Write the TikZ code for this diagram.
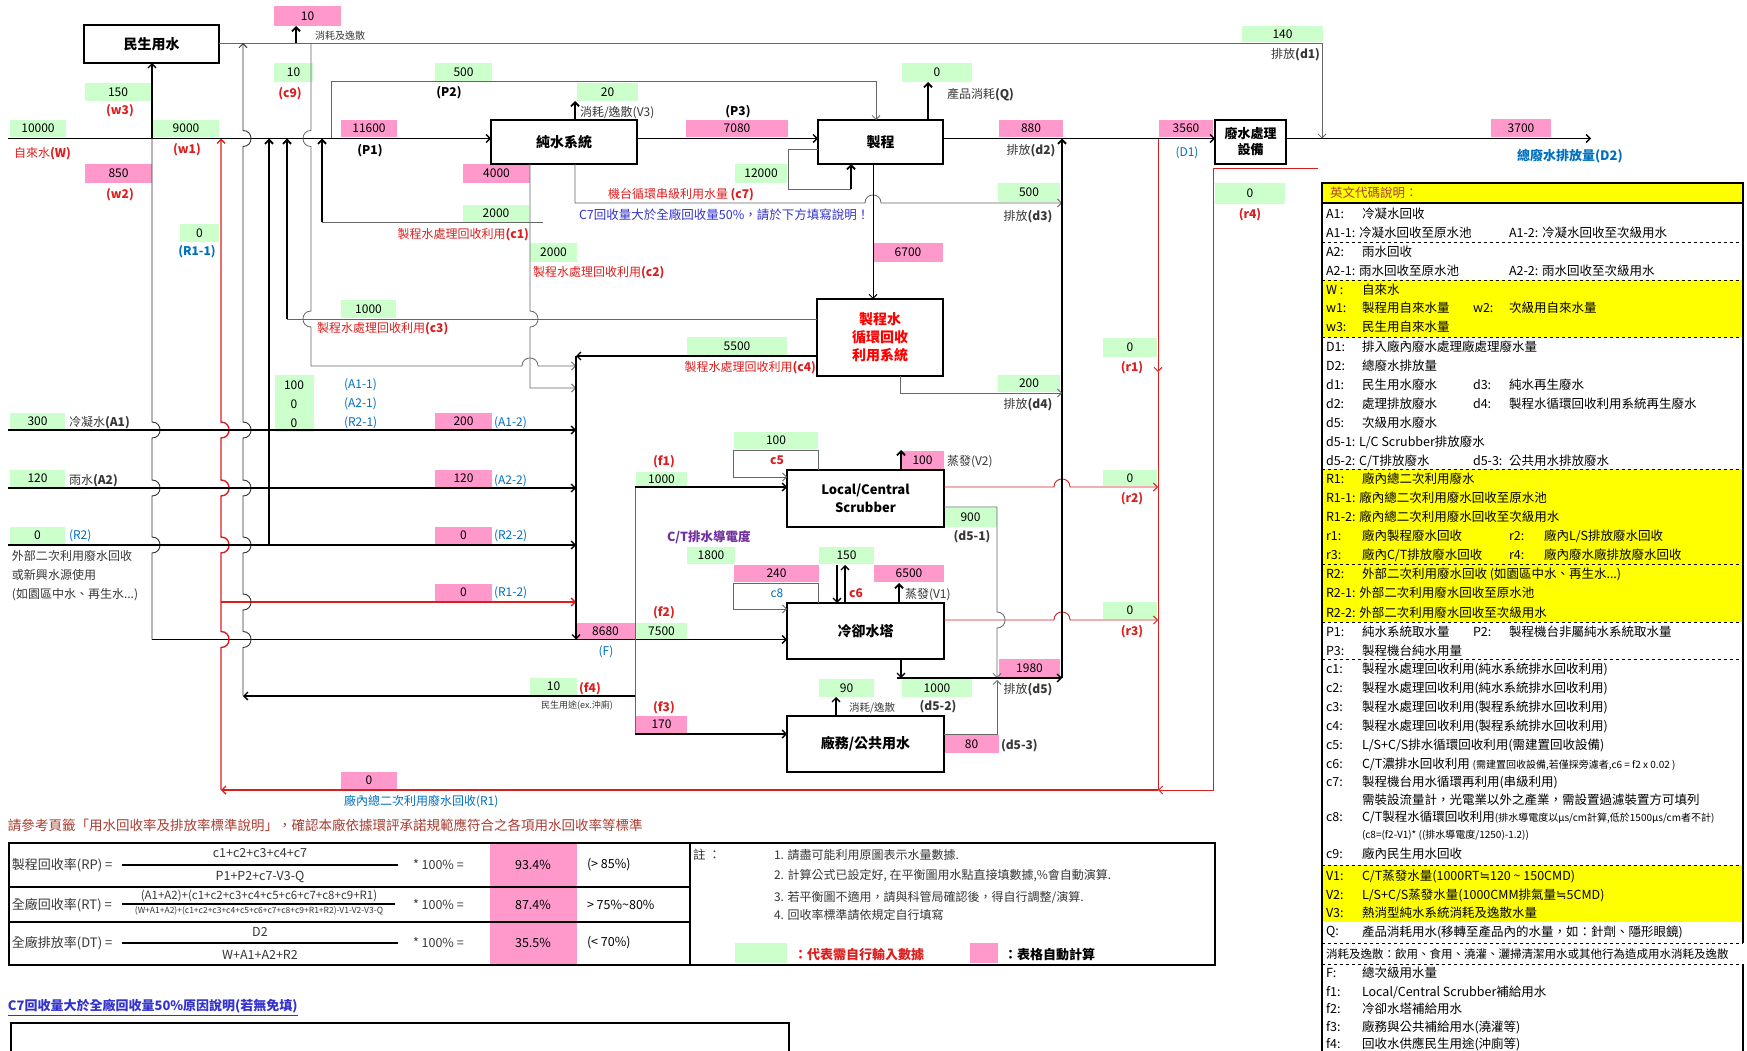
\documentclass[tikz,border=0pt]{standalone}
\usepackage{fontspec}
\setmainfont{Noto Sans CJK TC}
\newfontfamily\djv{DejaVu Sans}
\usetikzlibrary{arrows.meta}
\definecolor{gbx}{RGB}{204,255,204}
\definecolor{pbx}{RGB}{255,153,204}
\definecolor{ylw}{RGB}{255,255,0}
\definecolor{rd}{RGB}{220,30,30}
\definecolor{bl}{RGB}{0,112,192}
\definecolor{pu}{RGB}{112,48,160}
\definecolor{bb}{RGB}{51,51,204}
\definecolor{br}{RGB}{170,60,50}
\definecolor{tx}{RGB}{55,55,55}
\newcommand\fsz[2]{\fontsize{#1}{#2}\selectfont}
\newcommand\apx{{\djv ≒}}
\newcommand\vbx[7]{\fill[#1] (#3,#4) rectangle (#5,#6); \node[val] (#2) at ({(#3+#5)/2},{(#4+#6)/2}) {#7};}
\newcommand\lgA[3]{\node[lgt,anchor=west] (la#1) at (1326,#1) {#2}; \node[lgt,anchor=west] (lb#1) at (1362,#1) {#3};}
\newcommand\lgB[3]{\node[lgt,anchor=west] (lc#1) at (1473,#1) {#2}; \node[lgt,anchor=west] (ld#1) at (1509,#1) {#3};}
\begin{document}
\begin{tikzpicture}[x=1pt,y=-1pt,
  every node/.style={inner sep=0pt,outer sep=0pt},
  val/.style={font=\fsz{12}{14},text=black},
  lab/.style={font=\fsz{12}{14},text=tx},
  rlab/.style={font=\bfseries\fsz{12}{14},text=rd},
  blab/.style={font=\fsz{12}{14},text=bl},
  lgt/.style={font=\fsz{12.5}{15},text=black},
  boxn/.style={draw=black,line width=2.2pt,fill=white,font=\bfseries\fsz{14}{17},align=center},
  fl/.style={draw=black,line width=1.3pt},
  gl/.style={draw=black!60,line width=0.8pt},
  tk/.style={draw=black,line width=1.9pt},
  rl/.style={draw=rd,line width=0.9pt},
  rt/.style={draw=rd,line width=1.4pt},
  ar/.style={-{Straight Barb[length=4pt,width=8pt]}},
  ra/.style={{Straight Barb[length=4pt,width=8pt]}-},
]
\useasboundingbox (0,0) rectangle (1747,1051);
\fill[white] (0,0) rectangle (1747,1051);

% ---------- value boxes ----------
\vbx{gbx}{v10000}{10}{120}{66}{137}{10000}
\vbx{gbx}{v150}{85}{83}{151}{101}{150}
\vbx{pbx}{v850}{85}{164}{152}{183}{850}
\vbx{gbx}{v9000}{153}{120}{219}{137}{9000}
\vbx{gbx}{vR11}{180}{224}{219}{242}{0}
\vbx{pbx}{v10a}{274}{6}{341}{26}{10}
\vbx{gbx}{vc9}{274}{63}{313}{82}{10}
\vbx{gbx}{vP2}{435}{63}{492}{82}{500}
\vbx{pbx}{vP1}{341}{120}{397}{137}{11600}
\vbx{gbx}{vV3}{577}{83}{638}{101}{20}
\vbx{pbx}{vP3}{686}{120}{788}{137}{7080}
\vbx{pbx}{v4000}{463}{164}{530}{183}{4000}
\vbx{gbx}{vc7}{735}{164}{787}{183}{12000}
\vbx{gbx}{vc1}{463}{205}{529}{222}{2000}
\vbx{gbx}{vc2}{530}{243}{577}{262}{2000}
\vbx{gbx}{vc3}{341}{300}{396}{318}{1000}
\vbx{gbx}{vc4}{687}{337}{787}{356}{5500}
\vbx{pbx}{v6700}{873}{243}{943}{262}{6700}
\vbx{pbx}{vd2}{999}{120}{1063}{137}{880}
\vbx{gbx}{vQ}{902}{63}{972}{82}{0}
\vbx{gbx}{vd3}{998}{183}{1060}{202}{500}
\vbx{gbx}{vd4}{998}{375}{1060}{392}{200}
\vbx{gbx}{vd1}{1242}{26}{1323}{42}{140}
\vbx{pbx}{vD1}{1159}{120}{1213}{137}{3560}
\vbx{pbx}{vD2}{1491}{119}{1551}{137}{3700}
\vbx{gbx}{vr4}{1215}{183}{1285}{204}{0}
\vbx{gbx}{vr1}{1103}{338}{1157}{357}{0}
\vbx{gbx}{vr2}{1103}{470}{1157}{486}{0}
\vbx{gbx}{vr3}{1103}{602}{1157}{619}{0}
\vbx{gbx}{vA1}{10}{413}{65}{430}{300}
\vbx{gbx}{vA2}{10}{470}{65}{487}{120}
\vbx{gbx}{vR2}{10}{527}{65}{544}{0}
\fill[gbx] (275,375) rectangle (314,432);
\node[val] (vA11) at (294,385) {100};
\node[val] (vA21) at (294,404) {0};
\node[val] (vR21) at (294,423) {0};
\vbx{pbx}{vA12}{435}{413}{492}{430}{200}
\vbx{pbx}{vA22}{435}{470}{492}{487}{120}
\vbx{pbx}{vR22}{435}{527}{492}{544}{0}
\vbx{pbx}{vR12}{435}{584}{492}{601}{0}
\vbx{gbx}{vf1}{636}{472}{687}{486}{1000}
\vbx{gbx}{vc5}{734}{432}{818}{449}{100}
\vbx{pbx}{vV2}{901}{451}{944}{469}{100}
\vbx{gbx}{vd51}{944}{508}{997}{527}{900}
\vbx{gbx}{vcond}{687}{547}{735}{564}{1800}
\vbx{pbx}{vc8}{734}{565}{819}{582}{240}
\vbx{gbx}{vc6}{819}{547}{874}{564}{150}
\vbx{pbx}{vV1}{874}{565}{944}{582}{6500}
\vbx{pbx}{vF}{576}{623}{635}{639}{8680}
\vbx{gbx}{vf2}{636}{623}{687}{639}{7500}
\vbx{pbx}{vd5}{999}{659}{1060}{677}{1980}
\vbx{gbx}{vd52}{902}{679}{972}{697}{1000}
\vbx{gbx}{vcons}{819}{679}{874}{697}{90}
\vbx{pbx}{vf3}{636}{716}{687}{733}{170}
\vbx{pbx}{vd53}{944}{735}{999}{753}{80}
\vbx{gbx}{vf4}{530}{678}{577}{695}{10}
\vbx{pbx}{vR1}{341}{772}{397}{789}{0}

% ---------- labels ----------
\node[lab,text=rd,anchor=west] (lW) at (14,154) {自來水\textbf{(W)}};
\node[rlab] (lw3) at (120,111) {(w3)};
\node[rlab] (lw2) at (120,195) {(w2)};
\node[rlab] (lw1) at (187,150) {(w1)};
\node[blab,font=\bfseries\fsz{12}{14}] (lR11) at (197,252) {(R1-1)};
\node[lab,anchor=west,font=\fsz{10}{12}] (lcons) at (315,36) {消耗及逸散};
\node[rlab] (lc9) at (290,94) {(c9)};
\node[lab,font=\bfseries\fsz{12}{14},text=black] (lP2) at (449,93) {(P2)};
\node[lab,font=\bfseries\fsz{12}{14},text=black] (lP1) at (370,151) {(P1)};
\node[lab,anchor=west] (lV3) at (580,113) {消耗/逸散(V3)};
\node[lab,font=\bfseries\fsz{12}{14},text=black] (lP3) at (738,112) {(P3)};
\node[lab,text=rd,anchor=west] (lc7) at (608,195) {機台循環串級利用水量 \textbf{(c7)}};
\node[lab,text=bb,anchor=west,font=\fsz{12.5}{15}] (lc7n) at (579,215) {C7回收量大於全廠回收量50\%，請於下方填寫說明！};
\node[lab,text=rd,anchor=east] (lc1) at (529,235) {製程水處理回收利用\textbf{(c1)}};
\node[lab,text=rd,anchor=west] (lc2) at (533,273) {製程水處理回收利用\textbf{(c2)}};
\node[lab,text=rd,anchor=west] (lc3) at (317,329) {製程水處理回收利用\textbf{(c3)}};
\node[lab,text=rd,anchor=east] (lc4) at (816,368) {製程水處理回收利用\textbf{(c4)}};
\node[lab] (ld2) at (1031,151) {排放\textbf{(d2)}};
\node[lab,anchor=west] (lQ) at (947,95) {產品消耗\textbf{(Q)}};
\node[lab] (ld3) at (1028,217) {排放\textbf{(d3)}};
\node[lab] (ld4) at (1028,405) {排放\textbf{(d4)}};
\node[lab,anchor=east] (ld1) at (1320,55) {排放\textbf{(d1)}};
\node[blab] (lD1) at (1187,153) {(D1)};
\node[blab,font=\bfseries\fsz{13}{15},anchor=west] (lD2) at (1517,156) {總廢水排放量(D2)};
\node[rlab] (lr4) at (1250,215) {(r4)};
\node[rlab] (lr1) at (1132,368) {(r1)};
\node[rlab] (lr2) at (1132,499) {(r2)};
\node[rlab] (lr3) at (1132,632) {(r3)};
\node[lab,anchor=west] (lA1) at (69,423) {冷凝水\textbf{(A1)}};
\node[lab,anchor=west] (lA2) at (69,481) {雨水\textbf{(A2)}};
\node[blab,anchor=west] (lR2) at (69,536) {(R2)};
\node[lab,anchor=west,align=left,font=\fsz{12}{19}] (lext) at (12,576) {外部二次利用廢水回收\\或新興水源使用\\ (如園區中水、再生水...)};
\node[blab,anchor=west] (lA11) at (344,385) {(A1-1)};
\node[blab,anchor=west] (lA21) at (344,404) {(A2-1)};
\node[blab,anchor=west] (lR21) at (344,423) {(R2-1)};
\node[blab,anchor=west] (lA12) at (494,423) {(A1-2)};
\node[blab,anchor=west] (lA22) at (494,481) {(A2-2)};
\node[blab,anchor=west] (lR22) at (494,536) {(R2-2)};
\node[blab,anchor=west] (lR12) at (494,593) {(R1-2)};
\node[rlab] (lf1) at (664,462) {(f1)};
\node[rlab] (lc5) at (777,460) {c5};
\node[lab,anchor=west] (lV2) at (947,462) {蒸發(V2)};
\node[lab,font=\bfseries\fsz{12}{14}] (ld51) at (972,537) {(d5-1)};
\node[lab,text=pu,font=\bfseries\fsz{12.5}{15},anchor=west] (lcond) at (667,537) {C/T排水導電度};
\node[blab] (lc8) at (777,593) {c8};
\node[rlab] (lc6) at (856,593) {c6};
\node[lab,anchor=west] (lV1) at (905,595) {蒸發(V1)};
\node[blab] (lF) at (606,652) {(F)};
\node[rlab] (lf2) at (664,613) {(f2)};
\node[lab] (ld5) at (1028,690) {排放\textbf{(d5)}};
\node[lab,font=\bfseries\fsz{12}{14}] (ld52) at (938,707) {(d5-2)};
\node[lab,anchor=west,font=\fsz{10.5}{12}] (lcons2) at (849,708) {消耗/逸散};
\node[rlab] (lf3) at (664,708) {(f3)};
\node[lab,anchor=west,font=\bfseries\fsz{12}{14}] (ld53) at (1001,746) {(d5-3)};
\node[rlab] (lf4) at (590,689) {(f4)};
\node[lab,font=\fsz{9}{11}] (lf4u) at (577,706) {民生用途(ex.沖廁)};
\node[blab,anchor=west] (lR1) at (344,802) {廠內總二次利用廢水回收(R1)};

% ---------- main boxes ----------
\node[boxn,minimum width=135pt,minimum height=38pt] (minsheng) at (151.5,44) {民生用水};
\node[boxn,minimum width=146pt,minimum height=44pt] (pure) at (564,142) {純水系統};
\node[boxn,minimum width=125pt,minimum height=44pt] (proc) at (880.5,142) {製程};
\node[boxn,minimum width=126pt,minimum height=77pt,text=red,font=\bfseries\fsz{14}{18}] (recyc) at (880,337.5) {製程水\\循環回收\\利用系統};
\node[boxn,minimum width=71pt,minimum height=44pt,font=\bfseries\fsz{13}{16}] (wwt) at (1250.5,142) {廢水處理\\設備};
\node[boxn,minimum width=157pt,minimum height=57pt,font=\bfseries\fsz{13}{18}] (scrub) at (865.5,498.5) {Local/Central\\Scrubber};
\node[boxn,minimum width=157pt,minimum height=56pt] (ct) at (865.5,631) {冷卻水塔};
\node[boxn,minimum width=157pt,minimum height=56pt] (pub) at (865.5,744) {廠務/公共用水};

% ---------- connectors ----------
\draw[gl,ar] (219,43) -- (1322,43) -- (1322,138.5);
\draw[tk,ar] (296,43) -- (296,26);
\draw[fl,ar] (8,138.5) -- (491,138.5);
\draw[fl,ar] (152,138.5) -- (152,63);
\draw[draw=black!80,line width=0.9pt] (152,138.5) foreach \h in {430,488,545} {-- (152,\h-8) .. controls (162.7,\h-8) and (162.7,\h+8) .. (152,\h+8)} -- (152,639.5);
\draw[fl,ar] (152,639.5) -- (787,639.5);
% red R1 system
\draw[rt,ra] (221,138.5) foreach \h in {430,488,545,639.5} {-- (221,\h-8) .. controls (231.7,\h-8) and (231.7,\h+8) .. (221,\h+8)} -- (221,790);
\draw[rt,ar] (221,602) -- (576,602);
\draw[rt,ar] (1158,790) -- (221,790);
\draw[rl,ar] (1318,168) -- (1213,168) -- (1213,790) -- (1158,790);
\draw[rl,ar] (1158,138.5) -- (1158,372);
\draw[rl] (1158,372) -- (1158,790);
\draw[rl,ar] (944,487) -- (1054,487) .. controls (1054,476.3) and (1070,476.3) .. (1070,487) -- (1158,487);
\draw[rl,ar] (944,620) -- (1054,620) .. controls (1054,609.3) and (1070,609.3) .. (1070,620) -- (1158,620);
% f4 to domestic
\draw[draw=black!80,line width=0.9pt,ra] (243,43) foreach \h in {138.5,430,488,545,602,639.5} {-- (243,\h-8) .. controls (253.7,\h-8) and (253.7,\h+8) .. (243,\h+8)} -- (243,696);
\draw[fl,ar] (635,696) -- (243,696);
% A collector
\draw[tk,ra] (269,138.5) -- (269,545);
% c3
\draw[gl] (817,319) -- (287,319);
\draw[tk,ar] (287,319) -- (287,138.5);
% c9
\draw[gl,ar] (311,43) foreach \h in {138.5,319} {-- (311,\h-8) .. controls (300.3,\h-8) and (300.3,\h+8) .. (311,\h+8)} -- (311,366) -- (522,366) .. controls (522,355.3) and (538,355.3) .. (538,366) -- (576,366);
% c1, c2
\draw[gl] (543,222) -- (322,222);
\draw[tk,ar] (322,222) -- (322,138.5);
\draw[gl,ar] (530,164) -- (530,311) .. controls (540.7,311) and (540.7,327) .. (530,327) -- (530,388) -- (576,388);
% P2, V3, P3
\draw[gl,ar] (331,138.5) -- (331,81) -- (876,81) -- (876,120);
\draw[tk,ar] (575,120) -- (575,101);
\draw[fl,ar] (637,138.5) -- (818,138.5);
% c7 loop
\draw[gl] (818,149) -- (788,149) -- (788,189) -- (851,189);
\draw[tk,ar] (851,189) -- (851,164);
% d3
\draw[gl,ar] (575,164) -- (575,203) -- (865,203) .. controls (865,192.3) and (881,192.3) .. (881,203) -- (1062,203);
% process to recycle system
\draw[draw=black,line width=1pt,ar] (873,164) -- (873,299);
\draw[tk,ar] (928,120) -- (928,82);
\draw[fl,ar] (943,138.5) -- (1215,138.5);
\draw[tk,ra] (1062,138.5) -- (1062,678);
\draw[gl,ar] (900,376) -- (900,393) -- (1062,393);
\draw[fl,ar] (817,356) -- (576,356);
\draw[fl,ar] (576,356) -- (576,639.5);
\draw[fl,ar] (8,430) -- (576,430);
\draw[fl,ar] (8,488) -- (576,488);
\draw[fl,ar] (8,545) -- (576,545);
\draw[fl,ar] (1286,138.5) -- (1591,138.5);
% secondary water
\draw[gl] (635,487) -- (635,734);
\draw[fl,ar] (635,487) -- (787,487);
\draw[fl,ar] (635,734) -- (787,734);
\draw[gl,ar] (818,470) -- (818,450) -- (733,450) -- (733,477) -- (787,477);
\draw[tk,ar] (901,470) -- (901,450);
\draw[gl,ar] (944,507) -- (997,507) -- (997,612) .. controls (1007.7,612) and (1007.7,628) .. (997,628) -- (997,678);
\draw[gl,ar] (818,603) -- (818,583) -- (733,583) -- (733,609) -- (787,609);
\draw[fl,ar] (837,565) -- (837,603);
\draw[fl,ar] (845,603) -- (845,565);
\draw[tk,ar] (899,603) -- (899,583);
\draw[fl,ar] (901,659) -- (901,678);
\draw[fl,ar] (897,678) -- (1062,678);
\draw[gl,ar] (944,734) -- (997,734) -- (997,680);
\draw[fl,ar] (836,716) -- (836,697);

% ---------- bottom table ----------
\node[anchor=west,text=br,font=\fsz{13.5}{16}] (ttl) at (8,825) {請參考頁籤「用水回收率及排放率標準說明」，確認本廠依據環評承諾規範應符合之各項用水回收率等標準};
\fill[pbx] (490,843) rectangle (577,965);
\draw[line width=1.2pt] (9,887) -- (690,887) (9,922) -- (690,922);
\draw[line width=2.5pt] (9,843) rectangle (1215,965);
\draw[line width=2.5pt] (690,843) -- (690,965);
\begin{scope}[every node/.append style={font=\fsz{12.5}{15},text=tx}]
\node[anchor=west,font=\fsz{13}{15}] (rp) at (12,865) {製程回收率(RP) =};
\draw[line width=1.6pt] (122,865) -- (398,865);
\node (rpn) at (260,853) {c1+c2+c3+c4+c7};
\node (rpd) at (260,877) {P1+P2+c7-V3-Q};
\node[anchor=west] (rpm) at (413,865) {* 100\% =};
\node[text=black] (rpv) at (533,865) {93.4\%};
\node[anchor=west,text=black] (rps) at (587,865) {(> 85\%)};
\node[anchor=west,font=\fsz{13}{15}] (rt) at (12,905) {全廠回收率(RT) =};
\draw[line width=1.6pt] (122,904) -- (395,904);
\node[font=\fsz{11.5}{13}] (rtn) at (259,896) {(A1+A2)+(c1+c2+c3+c4+c5+c6+c7+c8+c9+R1)};
\node[font=\fsz{8.5}{10}] (rtd) at (259,911) {(W+A1+A2)+(c1+c2+c3+c4+c5+c6+c7+c8+c9+R1+R2)-V1-V2-V3-Q};
\node[anchor=west] (rtm) at (413,905) {* 100\% =};
\node[text=black] (rtv) at (533,905) {87.4\%};
\node[anchor=west,text=black] (rts) at (587,905) {> 75\%\textasciitilde80\%};
\node[anchor=west,font=\fsz{13}{15}] (dt) at (12,943) {全廠排放率(DT) =};
\draw[line width=1.6pt] (122,943) -- (398,943);
\node (dtn) at (260,932) {D2};
\node (dtd) at (260,955) {W+A1+A2+R2};
\node[anchor=west] (dtm) at (413,943) {* 100\% =};
\node[text=black] (dtv) at (533,943) {35.5\%};
\node[anchor=west,text=black] (dts) at (587,943) {(< 70\%)};
\node[anchor=west] (nt0) at (693,855) {註 ：};
\node[anchor=west,font=\fsz{12}{14}] (nt1) at (774,855) {1. 請盡可能利用原圖表示水量數據.};
\node[anchor=west,font=\fsz{12}{14}] (nt2) at (774,876) {2. 計算公式已設定好, 在平衡圖用水點直接填數據,\%會自動演算.};
\node[anchor=west,font=\fsz{12}{14}] (nt3) at (774,897) {3. 若平衡圖不適用，請與科管局確認後，得自行調整/演算.};
\node[anchor=west,font=\fsz{12}{14}] (nt4) at (774,915) {4. 回收率標準請依規定自行填寫};
\end{scope}
\fill[gbx] (735,943) rectangle (787,963);
\node[anchor=west,text=rd,font=\bfseries\fsz{13}{15}] (lg1) at (794,955) {：代表需自行輸入數據};
\fill[pbx] (970,943) rectangle (998,963);
\node[anchor=west,font=\bfseries\fsz{13}{15}] (lg2) at (1004,955) {：表格自動計算};
\node[anchor=west,text=bb,font=\bfseries\fsz{13}{15}] (c7t) at (8,1006) {C7回收量大於全廠回收量50\%原因說明(若無免填)};
\draw[bb,line width=0.8pt] (8,1015) -- (c7t.east |- 0,1015);
\draw[line width=1.6pt] (11,1060) -- (11,1023) -- (789,1023) -- (789,1060);

% ---------- legend ----------
\fill[ylw] (1322,183) rectangle (1743,203);
\fill[ylw] (1322,280) rectangle (1743,337);
\fill[ylw] (1322,469) rectangle (1743,622);
\fill[ylw] (1322,865) rectangle (1743,922);
\foreach \y in {242,280,337,469,564,622,659,865,943,964} {\draw[dashed,line width=0.8pt] (1322,\y) -- (1743,\y);}
\draw[line width=1.5pt] (1322,203) -- (1743,203);
\draw[line width=2pt] (1743,943) -- (1743,183) -- (1322,183) -- (1322,1051);
\draw[line width=2pt] (1743,964) -- (1743,1051);
\node[lgt,anchor=west,text=br] (lgt0) at (1330,193) {英文代碼說明：};
\lgA{214}{A1:}{冷凝水回收}
\node[lgt,anchor=west] (le233) at (1326,233) {A1-1: 冷凝水回收至原水池};
\node[lgt,anchor=west] (lf233) at (1509,233) {A1-2: 冷凝水回收至次級用水};
\lgA{252}{A2:}{雨水回收}
\node[lgt,anchor=west] (le271) at (1326,271) {A2-1: 雨水回收至原水池};
\node[lgt,anchor=west] (lf271) at (1509,271) {A2-2: 雨水回收至次級用水};
\lgA{290}{W :}{自來水}
\lgA{308}{w1:}{製程用自來水量}
\lgB{308}{w2:}{次級用自來水量}
\lgA{327}{w3:}{民生用自來水量}
\lgA{347}{D1:}{排入廠內廢水處理廠處理廢水量}
\lgA{366}{D2:}{總廢水排放量}
\lgA{385}{d1:}{民生用水廢水}
\lgB{385}{d3:}{純水再生廢水}
\lgA{404}{d2:}{處理排放廢水}
\lgB{404}{d4:}{製程水循環回收利用系統再生廢水}
\lgA{423}{d5:}{次級用水廢水}
\node[lgt,anchor=west] (le442) at (1326,442) {d5-1: L/C Scrubber排放廢水};
\node[lgt,anchor=west] (le461) at (1326,461) {d5-2: C/T排放廢水};
\lgB{461}{d5-3:}{公共用水排放廢水}
\lgA{479}{R1:}{廠內總二次利用廢水}
\node[lgt,anchor=west] (le498) at (1326,498) {R1-1: 廠內總二次利用廢水回收至原水池};
\node[lgt,anchor=west] (le517) at (1326,517) {R1-2: 廠內總二次利用廢水回收至次級用水};
\lgA{536}{r1:}{廠內製程廢水回收}
\node[lgt,anchor=west] (le536) at (1509,536) {r2:};
\node[lgt,anchor=west] (lf536) at (1544,536) {廠內L/S排放廢水回收};
\lgA{555}{r3:}{廠內C/T排放廢水回收}
\node[lgt,anchor=west] (le555) at (1509,555) {r4:};
\node[lgt,anchor=west] (lf555) at (1544,555) {廠內廢水廠排放廢水回收};
\lgA{574}{R2:}{外部二次利用廢水回收 (如園區中水、再生水...)}
\node[lgt,anchor=west] (le593) at (1326,593) {R2-1: 外部二次利用廢水回收至原水池};
\node[lgt,anchor=west] (le613) at (1326,613) {R2-2: 外部二次利用廢水回收至次級用水};
\lgA{632}{P1:}{純水系統取水量}
\lgB{632}{P2:}{製程機台非屬純水系統取水量}
\lgA{651}{P3:}{製程機台純水用量}
\lgA{669}{c1:}{製程水處理回收利用(純水系統排水回收利用)}
\lgA{688}{c2:}{製程水處理回收利用(純水系統排水回收利用)}
\lgA{707}{c3:}{製程水處理回收利用(製程系統排水回收利用)}
\lgA{726}{c4:}{製程水處理回收利用(製程系統排水回收利用)}
\lgA{745}{c5:}{L/S+C/S排水循環回收利用(需建置回收設備)}
\lgA{764}{c6:}{C/T濃排水回收利用 {\fsz{10}{12}(需建置回收設備,若僅採旁濾者,c6 = f2 x 0.02 )}}
\lgA{782}{c7:}{製程機台用水循環再利用(串級利用)}
\node[lgt,anchor=west] (le800) at (1362,800) {需裝設流量計，光電業以外之產業，需設置過濾裝置方可填列};
\lgA{817}{c8:}{C/T製程水循環回收利用{\fsz{10}{12}(排水導電度以μs/cm計算,低於1500μs/cm者不計)}}
\node[lgt,anchor=west,font=\fsz{10}{12}] (le835) at (1362,835) {(c8=(f2-V1)* ((排水導電度/1250)-1.2))};
\lgA{854}{c9:}{廠內民生用水回收}
\lgA{876}{V1:}{C/T蒸發水量(1000RT\apx 120 \textasciitilde{} 150CMD)}
\lgA{895}{V2:}{L/S+C/S蒸發水量(1000CMM排氣量\apx 5CMD)}
\lgA{913}{V3:}{熱消型純水系統消耗及逸散水量}
\lgA{932}{Q:}{產品消耗用水(移轉至產品內的水量，如：針劑、隱形眼鏡)}
\node[lgt,anchor=west,font=\fsz{11.5}{14}] (le954) at (1326,954) {消耗及逸散：飲用、食用、澆灌、灑掃清潔用水或其他行為造成用水消耗及逸散};
\lgA{973}{F:}{總次級用水量}
\lgA{992}{f1:}{Local/Central Scrubber補給用水}
\lgA{1009}{f2:}{冷卻水塔補給用水}
\lgA{1027}{f3:}{廠務與公共補給用水(澆灌等)}
\lgA{1044}{f4:}{回收水供應民生用途(沖廁等)}
\end{tikzpicture}
\end{document}
